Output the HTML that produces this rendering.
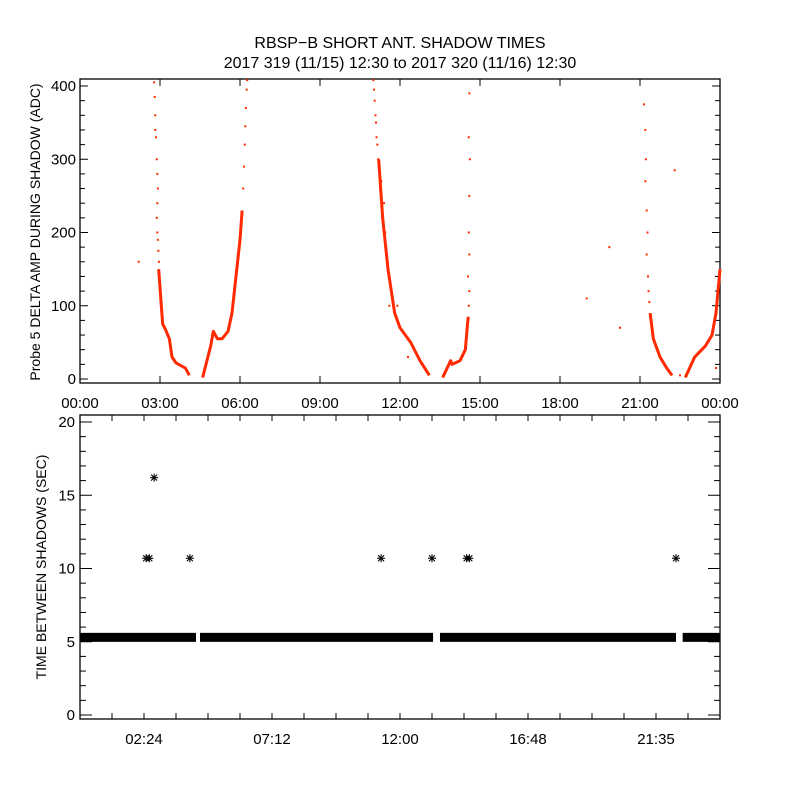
<!DOCTYPE html>
<html><head><meta charset="utf-8"><style>
html,body{margin:0;padding:0;background:#fff;}
svg{display:block;font-family:"Liberation Sans",sans-serif;}
</style></head><body>
<svg id="c" width="800" height="800" viewBox="0 0 800 800">
<text x="400" y="48" text-anchor="middle" font-size="16">RBSP−B SHORT ANT. SHADOW TIMES</text>
<text x="400" y="68" text-anchor="middle" font-size="16">2017 319 (11/15) 12:30 to 2017 320 (11/16) 12:30</text>
<g id="top"></g>
<g id="bot"></g>
</svg>
<script>
// ---- top panel data (hours, ADC) ----
const topCurve1 = [[2.95,150],[3.05,100],[3.1,75],[3.2,68],[3.35,55],[3.45,30],[3.6,22],[3.8,18],[3.95,15],[4.1,5]];
const topCurve2 = [[4.6,2],[4.9,45],[5.0,65],[5.15,55],[5.33,55],[5.55,65],[5.7,90],[5.85,140],[6.0,190],[6.08,230]];
const topCurve3 = [[11.2,300],[11.35,220],[11.55,150],[11.8,90],[12.0,70],[12.4,50],[12.75,25],[13.1,5]];
const topCurve4 = [[13.6,2],[13.9,25],[13.95,20],[14.25,25],[14.45,40],[14.52,70],[14.56,85]];
const topCurve5 = [[21.38,90],[21.5,55],[21.75,30],[22.0,15],[22.2,5]];
const topCurve6 = [[22.7,2],[23.05,30],[23.45,45],[23.7,60],[23.85,90],[24.0,150]];
const topScatter = [[2.2,160],[2.78,405],[2.8,385],[2.82,360],[2.82,340],[2.85,330],[2.88,300],[2.9,280],[2.92,260],[2.9,240],[2.88,220],[2.9,200],[2.92,190],[2.94,175],[2.96,160],[3.0,130],[3.02,110],
[6.12,260],[6.15,290],[6.18,320],[6.2,345],[6.22,370],[6.25,395],[6.27,408],
[11.0,408],[11.03,395],[11.05,380],[11.08,360],[11.1,350],[11.12,330],[11.15,320],[11.18,300],[11.3,270],[11.25,260],[11.45,200],[11.6,100],[11.4,240],
[14.6,390],[14.58,330],[14.62,300],[14.6,250],[14.58,200],[14.6,170],[14.55,140],[14.6,120],[14.58,100],
[21.15,375],[21.2,340],[21.22,300],[21.2,270],[21.25,230],[21.28,200],[21.25,170],[21.3,140],[21.32,120],[21.35,105],
[19.85,180],[19.0,110],[20.25,70],[22.5,5],[23.85,15],[22.3,285],[12.3,30],[11.9,100]];
const topYTicks = [0,100,200,300,400];
const topXLabels = ["00:00","03:00","06:00","09:00","12:00","15:00","18:00","21:00","00:00"];
// ---- bottom panel data ----
const bandSegments = [[0,4.35],[4.5,13.24],[13.5,22.35],[22.6,24]];
const bandValue = 5.3;
const starHours = [2.48,2.6,4.12,11.29,13.2,14.5,14.6,22.35,2.78];
const starValues = [10.7,10.7,10.7,10.7,10.7,10.7,10.7,10.7,16.2];
const botYTicks = [0,5,10,15,20];
const botXLabels = ["02:24","07:12","12:00","16:48","21:35"];

const NS="http://www.w3.org/2000/svg";
function mk(tag,attrs,parent){const e=document.createElementNS(NS,tag);for(const k in attrs)e.setAttribute(k,attrs[k]);parent.appendChild(e);return e;}
const L=80,R=720;
const xs=h=>L+(R-L)*h/24;
// top axes
const T=document.getElementById('top');
const ty=v=>379-v*0.7325;
const topBot=383;
const frame1=mk('rect',{x:L,y:79,width:R-L,height:topBot-79,fill:'none',stroke:'#000','stroke-width':1.3},T);


for(let v=0;v<=400;v+=20){const y=ty(v);const len=(v%100===0)?8:5;
 mk('line',{x1:L,x2:L+len,y1:y,y2:y,stroke:'#000'},T);mk('line',{x1:R,x2:R-len,y1:y,y2:y,stroke:'#000'},T);}
topYTicks.forEach(v=>{const t=mk('text',{x:L-4,y:ty(v)+5,'text-anchor':'end','font-size':15},T);t.textContent=v;
 
 });
topXLabels.forEach((s,i)=>{const x=xs(i*3);
 mk('line',{x1:x,x2:x,y1:topBot,y2:topBot-7,stroke:'#000'},T);mk('line',{x1:x,x2:x,y1:79,y2:86,stroke:'#000'},T);
 const t=mk('text',{x:x,y:408,'text-anchor':'middle','font-size':15},T);t.textContent=s;
 
 });
const yt1=mk('text',{transform:'translate(40,232) rotate(-90)','text-anchor':'middle','font-size':14},T);
yt1.textContent='Probe 5 DELTA AMP DURING SHADOW (ADC)';


[topCurve1,topCurve2,topCurve3,topCurve4,topCurve5,topCurve6].forEach(c=>{
 const p=mk('polyline',{points:c.map(d=>xs(d[0])+','+Math.max(80,ty(d[1]))).join(' '),fill:'none',stroke:'#ff2a00','stroke-width':3,'stroke-linejoin':'round'},T);
 
 });
topScatter.forEach(d=>{const r=mk('rect',{x:xs(d[0])-1,y:Math.max(80,ty(d[1]))-1,width:2,height:2,fill:'#ff2a00'},T);
 
 });
// bottom axes
const B=document.getElementById('bot');
const by=v=>715-v*14.65;
const botTop=415,botBot=719;
const frame2=mk('rect',{x:L,y:botTop,width:R-L,height:botBot-botTop,fill:'none',stroke:'#000','stroke-width':1.3},B);


for(let v=0;v<=20;v++){const y=by(v);const len=(v%5===0)?12:6;
 mk('line',{x1:L,x2:L+len,y1:y,y2:y,stroke:'#000'},B);mk('line',{x1:R,x2:R-len,y1:y,y2:y,stroke:'#000'},B);}
botYTicks.forEach(v=>{const t=mk('text',{x:L-5,y:by(v)+5,'text-anchor':'end','font-size':15},B);t.textContent=v;
 
 });
for(let h=1.2;h<24;h+=1.2){const x=xs(h);
 mk('line',{x1:x,x2:x,y1:botBot,y2:botBot-6,stroke:'#000'},B);mk('line',{x1:x,x2:x,y1:botTop,y2:botTop+6,stroke:'#000'},B);}
botXLabels.forEach((s,i)=>{const x=xs(2.4+i*4.8);
 const t=mk('text',{x:x,y:744,'text-anchor':'middle','font-size':15},B);t.textContent=s;
 
 });
const yt2=mk('text',{transform:'translate(46,567) rotate(-90)','text-anchor':'middle','font-size':14},B);
yt2.textContent='TIME BETWEEN SHADOWS (SEC)';


bandSegments.forEach(s=>{const r=mk('rect',{x:xs(s[0]),y:by(bandValue)-4.5,width:xs(s[1])-xs(s[0]),height:9,fill:'#000'},B);
 
 });
starHours.forEach((h,i)=>{const x=xs(h),y=by(starValues[i]);const g=mk('g',{stroke:'#000','stroke-width':1.1},B);
 
 
 mk('line',{x1:x-4,x2:x+4,y1:y,y2:y},g);mk('line',{x1:x,x2:x,y1:y-4,y2:y+4},g);
 mk('line',{x1:x-3,x2:x+3,y1:y-3,y2:y+3},g);mk('line',{x1:x-3,x2:x+3,y1:y+3,y2:y-3},g);});
</script>
</body></html>
